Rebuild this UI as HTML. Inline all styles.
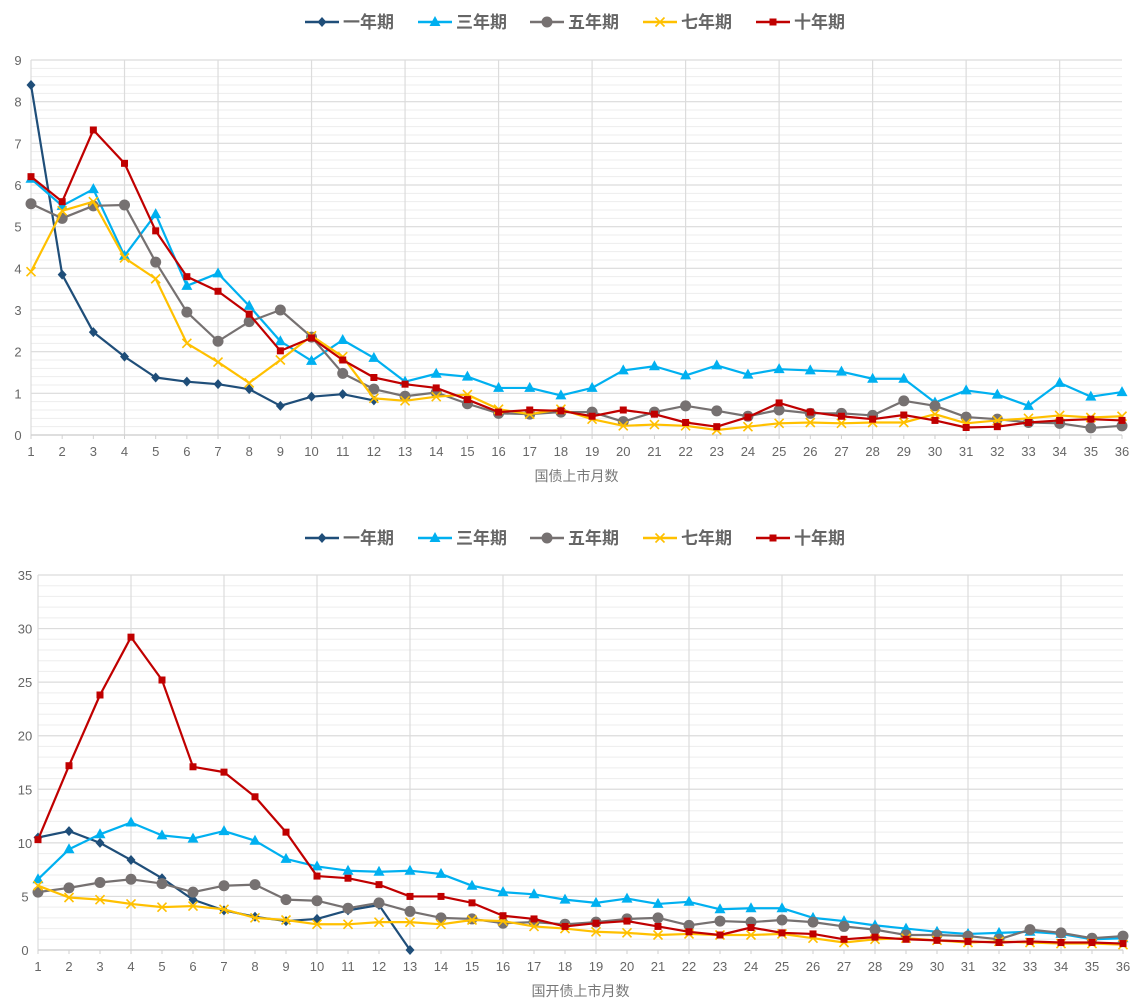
<!DOCTYPE html>
<html><head><meta charset="utf-8">
<style>
body{margin:0;background:#fff;width:1140px;height:1008px;overflow:hidden;font-family:"Liberation Sans","Noto Sans CJK SC",sans-serif;}
svg{position:absolute;left:0;}
</style></head>
<body>
<svg id="c1" width="1140" height="500" style="top:0"></svg>
<svg id="c2" width="1140" height="508" style="top:500"></svg>
<script>
const months = Array.from({length:36},(_,i)=>String(i+1));
const seriesNames = ["一年期","三年期","五年期","七年期","十年期"];
const seriesColors = ["#1f4e79","#00b0f0","#767171","#ffc000","#c00000"];
const seriesMarkers = ["diamond","triangle","circle","cross","square"];

const gzOne = [8.4,3.85,2.47,1.88,1.38,1.28,1.22,1.1,0.7,0.92,0.98,0.83];
const gzThree = [6.15,5.5,5.9,4.3,5.3,3.58,3.88,3.1,2.25,1.78,2.28,1.85,1.28,1.47,1.4,1.13,1.13,0.95,1.13,1.55,1.65,1.43,1.67,1.45,1.58,1.55,1.52,1.35,1.35,0.78,1.07,0.97,0.7,1.25,0.92,1.03];
const gzFive = [5.55,5.2,5.5,5.52,4.15,2.95,2.25,2.72,3.0,2.35,1.48,1.1,0.93,1.02,0.75,0.52,0.5,0.55,0.55,0.32,0.55,0.7,0.58,0.45,0.6,0.52,0.52,0.47,0.82,0.7,0.43,0.38,0.3,0.28,0.17,0.22];
const gzSeven = [3.92,5.38,5.6,4.25,3.75,2.2,1.75,1.25,1.8,2.38,1.88,0.88,0.82,0.92,0.97,0.62,0.5,0.62,0.38,0.22,0.25,0.22,0.12,0.2,0.28,0.3,0.28,0.3,0.3,0.5,0.28,0.35,0.4,0.47,0.42,0.45];
const gzTen = [6.2,5.6,7.32,6.52,4.9,3.8,3.45,2.9,2.02,2.33,1.8,1.38,1.22,1.13,0.85,0.55,0.6,0.58,0.45,0.6,0.5,0.3,0.2,0.43,0.77,0.55,0.45,0.38,0.48,0.35,0.18,0.2,0.3,0.35,0.38,0.35];
const gzTicks = [0,1,2,3,4,5,6,7,8,9];

const cdbOne = [10.5,11.1,10,8.4,6.7,4.7,3.7,3.1,2.7,2.9,3.7,4.2,0];
const cdbThree = [6.6,9.4,10.8,11.9,10.7,10.4,11.1,10.2,8.5,7.8,7.4,7.3,7.4,7.1,6.0,5.4,5.2,4.7,4.4,4.8,4.3,4.5,3.8,3.9,3.9,3.0,2.7,2.3,2.0,1.7,1.5,1.6,1.7,1.5,1.0,1.1];
const cdbFive = [5.4,5.8,6.3,6.6,6.2,5.4,6.0,6.1,4.7,4.6,3.9,4.4,3.6,3.0,2.9,2.5,2.6,2.4,2.6,2.9,3.0,2.3,2.7,2.6,2.8,2.6,2.2,1.9,1.4,1.4,1.3,1.0,1.9,1.6,1.1,1.3];
const cdbSeven = [6.0,4.9,4.7,4.3,4.0,4.1,3.8,3.0,2.8,2.4,2.4,2.6,2.6,2.4,2.8,2.7,2.2,2.0,1.7,1.6,1.4,1.5,1.4,1.4,1.5,1.1,0.7,1.0,1.1,0.9,0.7,0.8,0.7,0.6,0.6,0.5];
const cdbTen = [10.3,17.2,23.8,29.2,25.2,17.1,16.6,14.3,11.0,6.9,6.7,6.1,5.0,5.0,4.4,3.2,2.9,2.2,2.5,2.7,2.2,1.7,1.4,2.1,1.6,1.5,1.0,1.2,1.0,0.9,0.8,0.7,0.8,0.7,0.7,0.6];
const cdbTicks = [0,5,10,15,20,25,30,35];

const NS="http://www.w3.org/2000/svg";
function mk(parent,tag,attrs){const e=document.createElementNS(NS,tag);for(const k in attrs)e.setAttribute(k,attrs[k]);parent.appendChild(e);return e;}

function marker(g,type,x,y,color){
  let e;
  if(type==="diamond") e=mk(g,"polygon",{points:`${x},${y-5} ${x+4.5},${y} ${x},${y+5} ${x-4.5},${y}`,fill:color});
  else if(type==="triangle") e=mk(g,"polygon",{points:`${x},${y-6} ${x+5.5},${y+4} ${x-5.5},${y+4}`,fill:color});
  else if(type==="circle") e=mk(g,"circle",{cx:x,cy:y,r:5.5,fill:color});
  else if(type==="square") e=mk(g,"rect",{x:x-3.5,y:y-3.5,width:7,height:7,fill:color});
  else e=mk(g,"path",{d:`M${x-4.5},${y-4.5}L${x+4.5},${y+4.5}M${x+4.5},${y-4.5}L${x-4.5},${y+4.5}`,stroke:color,"stroke-width":1.6,fill:"none"});
  return e;
}

function draw(svg,cfg){
  const {x0,x1,y0,y1,ymax,ticks,minorStep,series,title,legendY,xLabelY,titleY}=cfg;
  const xs=i=>x0+(x1-x0)*i/35;
  const ys=v=>y0-(y0-y1)*v/ymax;
  const grid=mk(svg,"g",{});
  
  
  for(let v=0;v<=ymax+1e-9;v+=minorStep){mk(grid,"line",{x1:x0,x2:x1,y1:ys(v),y2:ys(v),stroke:"#ededed","stroke-width":1});}
  ticks.forEach(t=>{mk(grid,"line",{x1:x0,x2:x1,y1:ys(t),y2:ys(t),stroke:"#dcdcdc","stroke-width":1.2});
    const tx=mk(svg,"text",{x:x0-13,y:ys(t)+5,"text-anchor":"middle","font-size":13,fill:"#666"});tx.textContent=t;
    
    });
  for(let i=0;i<36;i+=3){mk(grid,"line",{x1:xs(i),x2:xs(i),y1:y1,y2:y0,stroke:"#dcdcdc","stroke-width":1.2});}
  mk(grid,"line",{x1:x0,x2:x1,y1:y0,y2:y0,stroke:"#d0d0d0","stroke-width":1.2});
  months.forEach((m,i)=>{mk(grid,"line",{x1:xs(i),x2:xs(i),y1:y0,y2:y0+4,stroke:"#d0d0d0"});
    const tx=mk(svg,"text",{x:xs(i),y:xLabelY,"text-anchor":"middle","font-size":13,fill:"#666"});tx.textContent=m;
    
    });
  const tt=mk(svg,"text",{x:(x0+x1)/2,y:titleY,"text-anchor":"middle","font-size":14,fill:"#777"});tt.textContent=title;
  
  
  series.forEach((data,s)=>{
    const g=mk(svg,"g",{});
    
    
    mk(g,"polyline",{points:data.map((v,i)=>`${xs(i)},${ys(v)}`).join(" "),fill:"none",stroke:seriesColors[s],"stroke-width":2.2,"stroke-linejoin":"round"});
    data.forEach((v,i)=>{const m=marker(g,seriesMarkers[s],xs(i),ys(v),seriesColors[s]);
      
      });
  });
  const lx=[305,418,530,643,756];
  seriesNames.forEach((n,s)=>{
    const g=mk(svg,"g",{});
    
    
    mk(g,"line",{x1:lx[s],x2:lx[s]+34,y1:legendY,y2:legendY,stroke:seriesColors[s],"stroke-width":2.5});
    marker(g,seriesMarkers[s],lx[s]+17,legendY,seriesColors[s]);
    const t=mk(g,"text",{x:lx[s]+38,y:legendY+6,"font-size":17,"font-weight":"bold",fill:"#666"});t.textContent=n;
  });
}
draw(document.getElementById("c1"),{x0:31,x1:1122,y0:435,y1:60,ymax:9,ticks:gzTicks,minorStep:0.2,
  series:[gzOne,gzThree,gzFive,gzSeven,gzTen],title:"国债上市月数",legendY:22,xLabelY:456,titleY:481});
draw(document.getElementById("c2"),{x0:38,x1:1123,y0:450,y1:75,ymax:35,ticks:cdbTicks,minorStep:1,
  series:[cdbOne,cdbThree,cdbFive,cdbSeven,cdbTen],title:"国开债上市月数",legendY:38,xLabelY:471,titleY:496});
</script>
</body></html>
